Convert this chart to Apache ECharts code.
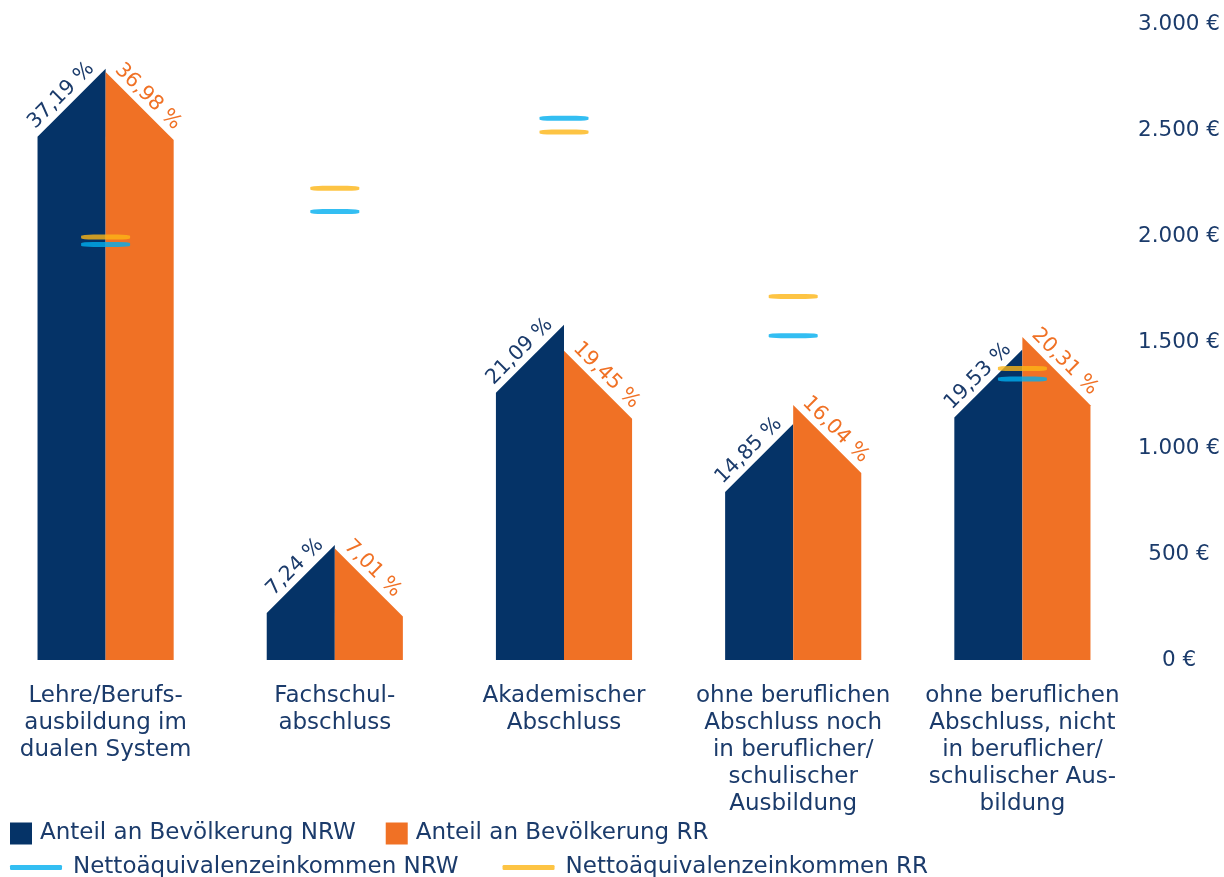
<!DOCTYPE html>
<html lang="de">
<head>
<meta charset="utf-8">
<title>Bildungsabschluss und Nettoäquivalenzeinkommen</title>
<script src="https://cdn.jsdelivr.net/npm/echarts@6/dist/echarts.min.js"></script>
<style>
  html, body { margin: 0; padding: 0; background: #ffffff; }
  #chart { width: 1224px; height: 877px; }
</style>
</head>
<body>
<div id="chart"></div>
<script>
// Kategorien (Bildungsabschluss)
const categories = [
  'Lehre/Berufs-\nausbildung im\ndualen System',
  'Fachschul-\nabschluss',
  'Akademischer\nAbschluss',
  'ohne beruflichen\nAbschluss noch\nin beruflicher/\nschulischer\nAusbildung',
  'ohne beruflichen\nAbschluss, nicht\nin beruflicher/\nschulischer Aus-\nbildung'
];

// Anteil an der Bevölkerung in %
const shareNRW = [37.19, 7.24, 21.09, 14.85, 19.53];
const shareRR  = [36.98, 7.01, 19.45, 16.04, 20.31];

// Nettoäquivalenzeinkommen in €
const incomeNRW = [1960, 2115, 2555, 1530, 1325];
const incomeRR  = [1995, 2225, 2490, 1715, 1375];

const NAVY = '#053367';
const ORANGE = '#f07125';
const BLUE = '#00aeef';
const YELLOW = '#fdb515';
const TEXT = '#1b3b6b';
const FONT = 'DejaVu Sans';

const HALF_FRACTION = 0.297;   // Breite einer Haushälfte relativ zur Kategorie
const LABEL_GAP = 2;           // Abstand der Werte-Beschriftung zur Dachkante
const LABEL_SHIFT_L = 8;       // Verschiebung entlang der Dachkante (links)
const LABEL_SHIFT_R = 5;       // Verschiebung entlang der Dachkante (rechts)

function pct(v) {
  return v.toFixed(2).replace('.', ',') + ' %';
}

function euro(v) {
  return String(v).replace(/\B(?=(\d{3})+(?!\d))/g, '.') + ' €';
}

// Zeichnet eine Hälfte des "Hauses": linke Hälfte (NRW) steigt zur Mitte an,
// rechte Hälfte (RR) fällt von der Mitte ab. Dachneigung 45°.
function houseHalf(side, color, labelColor) {
  return function (params, api) {
    const idx = api.value(0);
    const val = api.value(1);
    const base = api.coord([idx, 0]);
    const peak = api.coord([idx, val]);
    const half = api.size([1, 0])[0] * HALF_FRACTION;
    const cx = base[0];
    const by = base[1];
    const py = peak[1];
    const drop = half;
    const ang = Math.atan2(drop, half);
    const c = Math.cos(ang), s = Math.sin(ang);
    const font = '20.5px "' + FONT + '"';
    let points, label;
    if (side === 'left') {
      points = [[cx - half, by], [cx - half, py + drop], [cx, py], [cx, by]];
      label = {
        type: 'text',
        x: cx - LABEL_SHIFT_L * c - LABEL_GAP * s,
        y: py + LABEL_SHIFT_L * s - LABEL_GAP * c,
        rotation: ang,
        style: {
          text: pct(val), fill: labelColor, font: font,
          align: 'right', verticalAlign: 'bottom'
        }
      };
    } else {
      points = [[cx, by], [cx, py], [cx + half, py + drop], [cx + half, by]];
      label = {
        type: 'text',
        x: cx + LABEL_SHIFT_R * c + LABEL_GAP * s,
        y: py + LABEL_SHIFT_R * s - LABEL_GAP * c,
        rotation: -ang,
        style: {
          text: pct(val), fill: labelColor, font: font,
          align: 'left', verticalAlign: 'bottom'
        }
      };
    }
    return {
      type: 'group',
      children: [
        { type: 'polygon', shape: { points: points }, style: { fill: color } },
        label
      ]
    };
  };
}

const chart = echarts.init(document.getElementById('chart'), null, { renderer: 'canvas' });

chart.setOption({
  animation: false,
  backgroundColor: '#ffffff',
  textStyle: { fontFamily: FONT, color: TEXT },
  grid: {
    left: -9, right: 87, top: 24, bottom: 217,
    outerBoundsMode: 'none'
  },
  legend: [
    {
      data: ['Anteil an Bevölkerung NRW', 'Anteil an Bevölkerung RR'],
      left: 10, top: 822, orient: 'horizontal', padding: 0,
      icon: 'rect', itemWidth: 22, itemHeight: 22, itemGap: 30,
      textStyle: { fontFamily: FONT, fontSize: 23, color: TEXT, padding: [0, 0, 0, 3] }
    },
    {
      data: ['Nettoäquivalenzeinkommen NRW', 'Nettoäquivalenzeinkommen RR'],
      left: 10, top: 856, orient: 'horizontal', padding: 0,
      icon: 'roundRect', itemWidth: 52, itemHeight: 5, itemGap: 44,
      textStyle: { fontFamily: FONT, fontSize: 23, color: TEXT, padding: [0, 0, 0, 6] }
    }
  ],
  xAxis: {
    type: 'category',
    data: categories,
    axisLine: { show: false },
    axisTick: { show: false },
    splitLine: { show: false },
    axisLabel: {
      interval: 0, margin: 23,
      fontFamily: FONT, fontSize: 23, lineHeight: 27, color: TEXT,
      align: 'center', verticalAlign: 'top'
    }
  },
  yAxis: [
    {
      type: 'value', position: 'right',
      min: 0, max: 3000, interval: 500,
      axisLine: { show: false },
      axisTick: { show: false },
      splitLine: { show: false },
      axisLabel: {
        margin: 42, align: 'center',
        fontFamily: FONT, fontSize: 21.5, color: TEXT,
        formatter: euro
      }
    },
    {
      type: 'value', position: 'left', show: false,
      min: 0, max: 40,
      splitLine: { show: false }
    }
  ],
  series: [
    {
      name: 'Anteil an Bevölkerung NRW',
      type: 'custom',
      xAxisIndex: 0, yAxisIndex: 1,
      itemStyle: { color: NAVY },
      encode: { x: 0, y: 1 },
      data: shareNRW.map((v, i) => [i, v]),
      renderItem: houseHalf('left', NAVY, TEXT)
    },
    {
      name: 'Anteil an Bevölkerung RR',
      type: 'custom',
      xAxisIndex: 0, yAxisIndex: 1,
      itemStyle: { color: ORANGE },
      encode: { x: 0, y: 1 },
      data: shareRR.map((v, i) => [i, v]),
      renderItem: houseHalf('right', ORANGE, ORANGE)
    },
    {
      name: 'Nettoäquivalenzeinkommen NRW',
      type: 'scatter',
      xAxisIndex: 0, yAxisIndex: 0,
      symbol: 'roundRect', symbolSize: [49, 5],
      itemStyle: { color: BLUE },
      z: 5,
      data: incomeNRW
    },
    {
      name: 'Nettoäquivalenzeinkommen RR',
      type: 'scatter',
      xAxisIndex: 0, yAxisIndex: 0,
      symbol: 'roundRect', symbolSize: [49, 5],
      itemStyle: { color: YELLOW },
      z: 5,
      data: incomeRR
    }
  ]
});
</script>
</body>
</html>
